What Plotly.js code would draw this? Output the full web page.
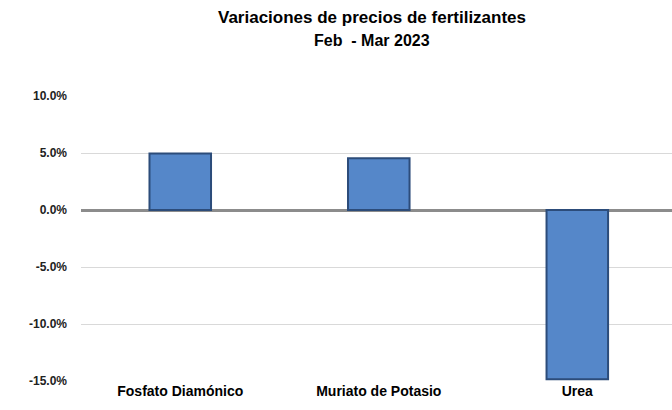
<!DOCTYPE html>
<html><head><meta charset="utf-8">
<script src="https://cdn.plot.ly/plotly-3.0.1.min.js"></script>
<style>html,body{margin:0;padding:0;background:#fff}#chart{width:672px;height:410px}</style>
</head><body><div id="chart"></div>
<script>
const categories = ["Fosfato Diamónico", "Muriato de Potasio", "Urea"];
const values = [0.0495, 0.0453, -0.1485];
const yTicks = [-0.15, -0.10, -0.05, 0, 0.05, 0.10];
const yTickLabels = ["-15.0%", "-10.0%", "-5.0%", "0.0%", "5.0%", "10.0%"];
const titleLines = ["Variaciones de precios de fertilizantes", "Feb  - Mar 2023"];

const font = "Liberation Sans, Arial, sans-serif";

const trace = {
  type: "bar",
  x: categories,
  y: values,
  width: 0.31,
  marker: {color: "#5587c9", line: {color: "#2c4c7a", width: 2}},
  hoverinfo: "skip"
};

const layout = {
  width: 672, height: 410,
  margin: {l: 81, r: 0, t: 96, b: 29},
  paper_bgcolor: "#fff", plot_bgcolor: "#fff",
  showlegend: false,
  annotations: [
    {text: "<b>" + titleLines[0] + "</b>", xref: "paper", yref: "paper", x: 0.492, y: 1.274,
     xanchor: "center", yanchor: "middle", showarrow: false,
     font: {family: font, size: 17, color: "#000"}},
    {text: "<b>" + titleLines[1] + "</b>", xref: "paper", yref: "paper", x: 0.492, y: 1.196,
     xanchor: "center", yanchor: "middle", showarrow: false,
     font: {family: font, size: 16, color: "#000"}}
  ],
  xaxis: {
    type: "category",
    range: [-0.5, 2.477],
    showgrid: false, zeroline: false, showline: false,
    ticks: "", tickfont: {family: font, size: 14, color: "#000"},
    tickprefix: "<b>", ticksuffix: "</b>"
  },
  yaxis: {
    range: [-0.15, 0.10],
    tickvals: yTicks, ticktext: yTickLabels.map(t => "<b>" + t + "</b>"),
    showgrid: true, gridcolor: "#d9d9d9", gridwidth: 1,
    zeroline: true, zerolinecolor: "#8c8c8c", zerolinewidth: 3,
    showline: false, ticks: "",
    tickfont: {family: font, size: 12, color: "#222"},
    ticklabelstandoff: 13
  }
};

Plotly.newPlot("chart", [trace], layout, {displayModeBar: false, staticPlot: true});
</script></body></html>
